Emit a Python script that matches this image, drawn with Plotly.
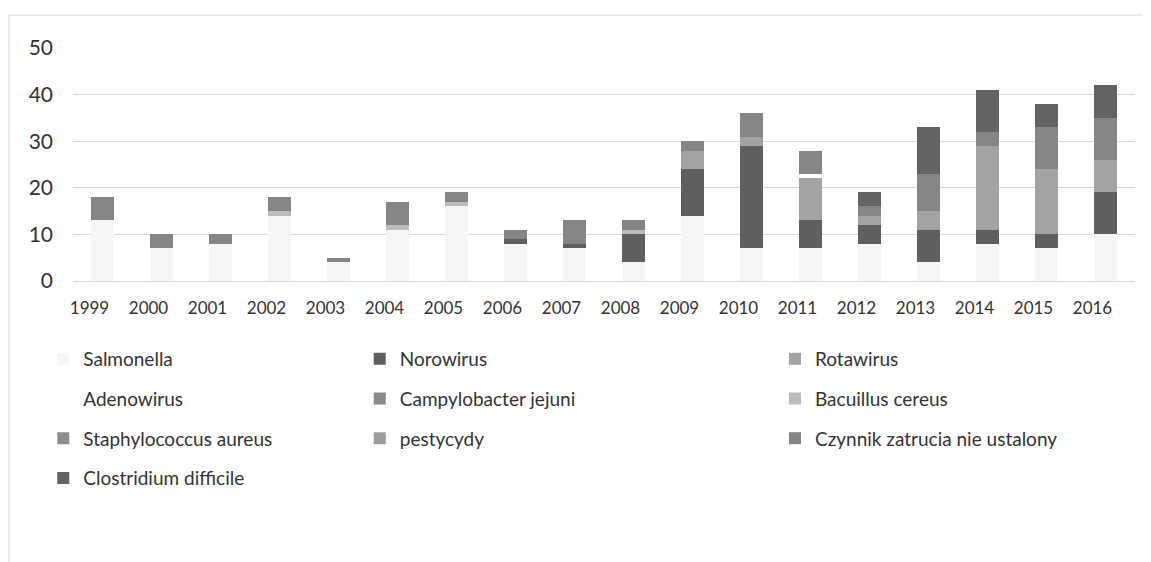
import plotly.graph_objects as go

years = [str(y) for y in range(1999, 2017)]

salmonella = [13, 7, 8, 14, 4, 11, 16, 8, 7, 4, 14, 7, 7, 8, 4, 8, 7, 10]
norowirus = [0, 0, 0, 0, 0, 0, 0, 1, 1, 6, 10, 22, 6, 4, 7, 3, 3, 9]
rotawirus = [0, 0, 0, 0, 0, 0, 0, 0, 0, 0, 4, 2, 9, 2, 4, 18, 14, 7]
adenowirus = [0, 0, 0, 0, 0, 0, 0, 0, 0, 0, 0, 0, 1, 0, 0, 0, 0, 0]
campylobacter = [0] * 18
bacillus = [0, 0, 0, 1, 0, 1, 1, 0, 0, 1, 0, 0, 0, 0, 0, 0, 0, 0]
staphylococcus = [0] * 18
pestycydy = [0] * 18
czynnik = [5, 3, 2, 3, 1, 5, 2, 2, 5, 2, 2, 5, 5, 2, 8, 3, 9, 9]
clostridium = [0, 0, 0, 0, 0, 0, 0, 0, 0, 0, 0, 0, 0, 3, 10, 9, 5, 7]

# name, values, colour, legend column
series = [
    ("Salmonella", salmonella, "#f5f5f5", "legend"),
    ("Norowirus", norowirus, "#5f5f5f", "legend2"),
    ("Rotawirus", rotawirus, "#a3a3a3", "legend3"),
    ("Adenowirus", adenowirus, "#ffffff", "legend"),
    ("Campylobacter jejuni", campylobacter, "#8a8a8a", "legend2"),
    ("Bacuillus cereus", bacillus, "#bcbcbc", "legend3"),
    ("Staphylococcus aureus", staphylococcus, "#8e8e8e", "legend"),
    ("pestycydy", pestycydy, "#9c9c9c", "legend2"),
    ("Czynnik zatrucia nie ustalony", czynnik, "#858585", "legend3"),
    ("Clostridium difficile", clostridium, "#636363", "legend"),
]

font_family = "Lato, 'Open Sans', sans-serif"
text_color = "#333333"

fig = go.Figure()
for name, values, color, leg in series:
    fig.add_trace(
        go.Bar(
            x=years,
            y=values,
            name=name,
            legend=leg,
            legendgroup=name,
            marker=dict(color=color, line=dict(width=0)),
        )
    )

legend_style = dict(
    orientation="v",
    traceorder="grouped",
    tracegroupgap=12,
    yanchor="top",
    xanchor="left",
    y=-0.253,
    font=dict(family=font_family, size=19, color=text_color),
    bgcolor="rgba(0,0,0,0)",
)

# page body adds 8px, so the margins are shifted up/left to compensate
fig.update_layout(
    barmode="stack",
    bargap=0.61,
    width=1151,
    height=562,
    margin=dict(l=65, r=24, t=40, b=289),
    paper_bgcolor="white",
    plot_bgcolor="white",
    font=dict(family=font_family, color=text_color),
    legend=dict(legend_style, x=-0.028),
    legend2=dict(legend_style, x=0.270),
    legend3=dict(legend_style, x=0.661),
    shapes=[
        dict(type="line", xref="paper", yref="paper",
             x0=-0.0603, x1=-0.0603, y0=1.1416, y1=-1.21,
             line=dict(color="#d6d6d6", width=1)),
        dict(type="line", xref="paper", yref="paper",
             x0=-0.0603, x1=1.03, y0=1.1416, y1=1.1416,
             line=dict(color="#d6d6d6", width=1)),
    ],
)

fig.update_xaxes(
    showgrid=False,
    showline=False,
    ticks="",
    tickfont=dict(family=font_family, size=17, color=text_color),
    ticklabelstandoff=15,
    ticklabelshift=-13,
)
fig.update_yaxes(
    range=[0, 50],
    tickvals=[0, 10, 20, 30, 40, 50],
    showgrid=True,
    gridcolor="#dadada",
    gridwidth=1,
    zeroline=True,
    zerolinecolor="#dadada",
    zerolinewidth=1,
    showline=False,
    ticks="",
    tickfont=dict(family=font_family, size=21, color=text_color),
    ticklabelstandoff=19,
)

fig.write_html("out.html")
